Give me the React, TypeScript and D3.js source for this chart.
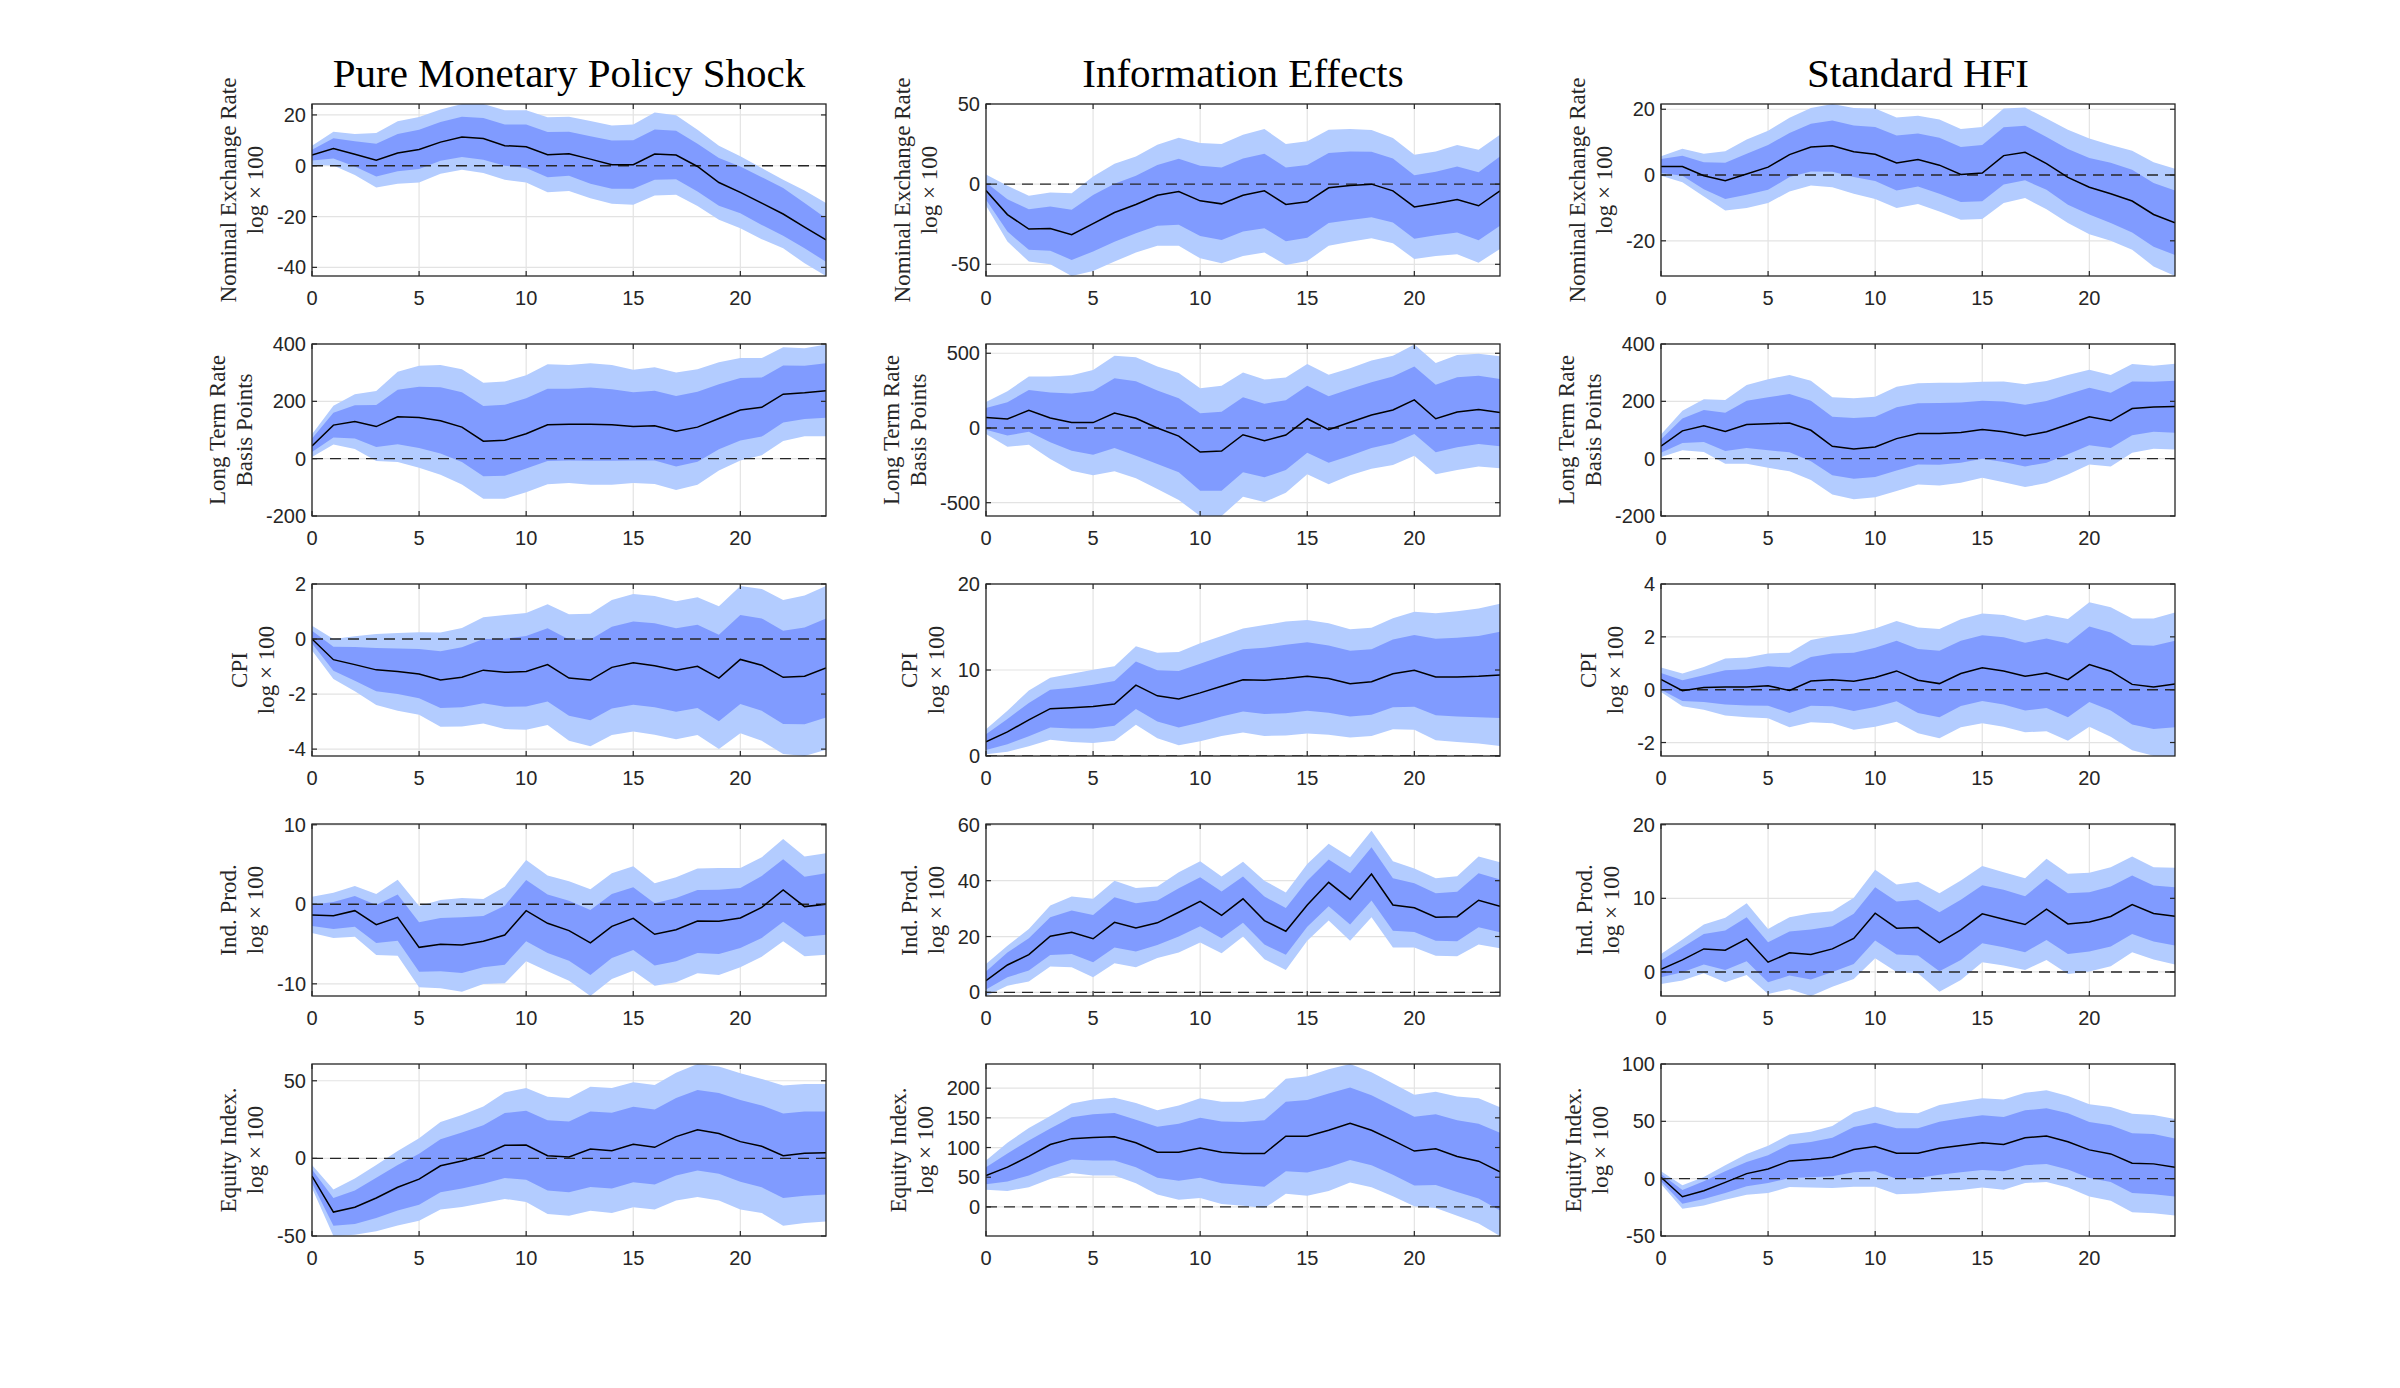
import React from 'react';
import * as d3 from 'd3';

// ---------------- DATA ----------------
const horizons = [0,1,2,3,4,5,6,7,8,9,10,11,12,13,14,15,16,17,18,19,20,21,22,23,24];
const xTicks = [0, 5, 10, 15, 20];
const columnTitles = ['Pure Monetary Policy Shock', 'Information Effects', 'Standard HFI'];
const rowLabels = [
  ['Nominal Exchange Rate', 'log × 100'],
  ['Long Term Rate', 'Basis Points'],
  ['CPI', 'log × 100'],
  ['Ind. Prod.', 'log × 100'],
  ['Equity Index.', 'log × 100'],
];

// Pure monetary policy shock — Nominal exchange rate
const pureNerMed = [4.2,6.8,4.5,2.2,5,6.4,9.3,11.3,10.7,7.9,7.5,4.3,4.7,2.6,0.4,0.4,4.6,4.2,-0.3,-6.6,-10.5,-14.7,-19,-24.2,-29.2];
const pureNerInHi = [6.3,10.8,9.6,8.7,12.5,14.2,17.2,19.3,18.8,16.2,16.2,13.3,13.4,11.6,9.9,10,14.3,13.8,8.7,3,-0.3,-4.5,-8.8,-14.7,-20.7];
const pureNerInLo = [2.1,2.8,-0.3,-4.2,-2.2,-1.3,2,3.4,2.4,0,-0.9,-4.5,-3.9,-7.1,-9.1,-9.1,-5.5,-5.3,-10.1,-15.7,-18.7,-23.3,-27.6,-32.5,-37.8];
const pureNerOutHi = [7.9,13.4,12.5,12.9,17.5,19.2,22.1,24.3,24.3,21.8,21.8,19.1,19.3,17.6,15.8,16.2,21,19.9,14.2,7.9,3.7,-0.9,-5.5,-9.7,-14.7];
const pureNerOutLo = [0.4,0.1,-3.6,-8.6,-7.1,-6.6,-3.2,-1.6,-2.9,-5.5,-6.6,-10.4,-9.9,-12.8,-15,-15.4,-11.7,-11.4,-15.8,-21.3,-24.6,-28.9,-32.5,-38.4,-43.4];

// Information effects — Nominal exchange rate
const infoNerMed = [-4,-19,-28,-27.7,-31.5,-24.6,-17.7,-12.7,-6.9,-4.6,-10.4,-12.3,-6.9,-4.2,-12.7,-11,-2.3,-0.8,0,-4.2,-14.2,-12.1,-9.6,-13.5,-4.2];
const infoNerInHi = [1,-9.4,-15.6,-14,-16,-6.7,0.2,5.2,12,15.8,11.5,10.4,16,19,10.4,11.9,19.4,20.4,20.2,16,5.6,7.7,11,7.5,17.3];
const infoNerInLo = [-9.8,-29.6,-41,-41.5,-47.3,-42,-36,-30.6,-26,-25.4,-32.3,-34.8,-29.6,-27.5,-35.6,-33.5,-24.2,-22.3,-20.6,-24,-34,-31.9,-30.2,-35,-26];
const infoNerOutHi = [6,-1,-7.3,-5.2,-5.6,4.8,12.7,17.3,24.6,29,25.6,25,30.8,34.4,25,26.7,34,34.4,33.8,28.8,18.3,20.4,24.4,21.5,30.8];
const infoNerOutLo = [-13.3,-35.8,-48.3,-50,-57.3,-54.2,-48.3,-42.7,-38.5,-38.5,-46.3,-49.4,-44.8,-42.7,-50.4,-47.9,-38.5,-36,-33.8,-36.9,-46.7,-44.8,-43.8,-49,-40.4];

// Standard HFI — Nominal exchange rate
const hfiNerMed = [2.6,2.6,-0.2,-1.7,0.3,2.4,6.2,8.5,8.9,7.1,6.3,3.7,4.7,3,0.2,0.6,5.9,6.9,3.5,-0.7,-3.7,-5.7,-7.9,-12,-14.5];
const hfiNerInHi = [4.9,5.9,3.9,3.7,6.5,9.1,12.8,15.6,16.6,15.1,14.6,12,12.6,11.3,8.5,9.1,14.5,15,11.6,7.9,5.2,3.7,1.6,-2.4,-4.7];
const hfiNerInLo = [0.6,-0.2,-4.3,-7.3,-6,-4.5,-0.6,1.1,1,-0.6,-1.8,-4.7,-3.5,-5.7,-8.2,-8,-2.9,-1.6,-4.5,-9,-12,-14.6,-17.5,-21.8,-24.3];
const hfiNerOutHi = [5.7,8,6.5,7.2,10.8,13.5,17.4,20.4,21.6,20.4,20.2,17.5,18,16.9,14,14.6,20.2,20.5,17.2,13.8,11.1,9.1,7.4,3.9,1.9];
const hfiNerOutLo = [-0.2,-2.2,-6.5,-10.8,-10,-8.5,-5,-3.2,-3.7,-5.7,-7.3,-10,-8.8,-11.1,-13.6,-13.4,-8.5,-7,-10.4,-14.6,-18,-20,-22.7,-27.8,-30.7];

// Pure — Long term rate
const pureLtrMed = [44,117,130,112,146,144,132,110,61,64,87,118,120,120,118,112,115,96,110,140,170,179,225,230,237];
const pureLtrInHi = [70,160,186,187,240,251,249,232,184,188,211,244,244,248,242,232,237,219,233,260,281,283,325,324,333];
const pureLtrInLo = [23,74,70,41,50,37,18,-12,-61,-60,-34,-8,-6,-7,-7,-6,-6,-27,-11,33,63,77,126,138,143];
const pureLtrOutHi = [85,185,225,236,303,324,327,312,265,269,291,329,327,333,327,310,319,301,312,336,351,351,389,385,398];
const pureLtrOutLo = [6,49,34,-8,-12,-32,-56,-90,-140,-140,-117,-89,-85,-91,-91,-85,-88,-109,-91,-41,-6,12,62,78,78];

// Info — Long term rate
const infoLtrMed = [71,60,118,67,36,36,100,65,0,-54,-161,-154,-45,-85,-47,62,-11,38,87,120,188,62,107,123,103];
const infoLtrInHi = [134,172,254,237,230,248,333,312,250,199,98,109,205,163,185,283,212,261,306,344,411,290,339,350,328];
const infoLtrInLo = [-11,-51,-25,-96,-152,-179,-134,-185,-241,-297,-420,-420,-297,-330,-281,-165,-232,-185,-134,-103,-40,-163,-129,-107,-123];
const infoLtrOutHi = [174,246,344,344,353,388,484,473,411,368,266,283,371,324,337,429,357,400,451,484,558,435,489,496,480];
const infoLtrOutLo = [-40,-125,-112,-208,-286,-317,-290,-337,-408,-482,-589,-589,-460,-496,-433,-310,-377,-317,-272,-248,-185,-310,-281,-257,-270];

// HFI — Long term rate
const hfiLtrMed = [44,97,115,95,119,122,124,99,43,34,41,70,88,88,91,102,94,80,94,119,146,132,175,180,182];
const hfiLtrInHi = [68,140,170,160,202,214,226,202,146,142,146,179,193,194,196,202,199,188,201,225,247,230,269,268,272];
const hfiLtrInLo = [21,55,58,27,37,29,22,-9,-58,-70,-64,-41,-20,-21,-14,0,-12,-27,-14,15,47,37,82,94,90];
const hfiLtrOutHi = [84,167,207,205,257,277,292,272,214,211,216,251,263,265,265,268,269,260,271,292,310,292,330,324,331];
const hfiLtrOutLo = [6,29,23,-18,-18,-32,-44,-74,-125,-142,-135,-113,-90,-94,-84,-67,-82,-99,-85,-55,-20,-27,21,35,32];

// Pure — CPI
const pureCpiMed = [0,-0.75,-0.93,-1.12,-1.18,-1.27,-1.49,-1.39,-1.13,-1.21,-1.18,-0.93,-1.42,-1.49,-1.03,-0.86,-0.97,-1.13,-0.99,-1.42,-0.74,-0.95,-1.39,-1.35,-1.05];
const pureCpiInHi = [0.3,-0.28,-0.29,-0.33,-0.34,-0.36,-0.44,-0.3,0,0.01,0.11,0.39,-0.02,-0.02,0.45,0.64,0.57,0.39,0.52,0.16,0.87,0.75,0.3,0.42,0.75];
const pureCpiInLo = [-0.16,-1.15,-1.52,-1.9,-2,-2.15,-2.51,-2.48,-2.33,-2.46,-2.45,-2.27,-2.79,-2.95,-2.52,-2.39,-2.48,-2.64,-2.51,-2.99,-2.36,-2.61,-3.09,-3.1,-2.85];
const pureCpiOutHi = [0.48,0,0.1,0.18,0.22,0.25,0.24,0.4,0.79,0.87,0.95,1.26,0.9,0.92,1.42,1.64,1.56,1.37,1.52,1.19,1.93,1.82,1.42,1.58,1.93];
const pureCpiOutLo = [-0.42,-1.45,-1.9,-2.4,-2.61,-2.75,-3.19,-3.18,-3.07,-3.27,-3.3,-3.12,-3.7,-3.9,-3.49,-3.36,-3.48,-3.64,-3.49,-4,-3.42,-3.7,-4.18,-4.25,-4.02];

// Info — CPI
const infoCpiMed = [1.64,2.8,4.2,5.5,5.6,5.75,6.05,8.24,7,6.64,7.34,8.1,8.87,8.8,9,9.26,9,8.4,8.63,9.57,9.96,9.18,9.18,9.26,9.41];
const infoCpiInHi = [2.54,4.3,6.17,7.7,7.93,8.28,8.71,11,9.96,9.88,10.74,11.6,12.42,12.6,12.93,13.24,12.85,12.23,12.42,13.55,14.06,13.63,13.75,13.95,14.45];
const infoCpiInLo = [0.7,1.37,2.3,3.32,3.2,3.2,3.52,5.47,4.02,3.32,3.9,4.6,5.16,4.88,4.96,5.27,5.04,4.6,4.8,5.66,5.74,4.73,4.6,4.5,4.41];
const infoCpiOutHi = [3.12,5.27,7.62,9.1,9.57,10.04,10.43,12.77,12,12.1,13.1,13.95,14.84,15.23,15.63,15.82,15.43,14.73,14.92,16.02,16.76,16.6,16.84,17.15,17.7];
const infoCpiOutLo = [0.2,0.5,1.13,1.9,1.64,1.52,1.76,3.63,2.07,1.25,1.72,2.34,2.73,2.34,2.38,2.62,2.46,2.15,2.34,3.12,3.05,1.84,1.64,1.45,1.17];

// HFI — CPI
const hfiCpiMed = [0.39,-0.04,0.08,0.1,0.1,0.15,-0.03,0.33,0.38,0.32,0.46,0.71,0.36,0.23,0.61,0.83,0.71,0.51,0.63,0.38,0.95,0.7,0.2,0.1,0.22];
const hfiCpiInHi = [0.63,0.36,0.55,0.74,0.77,0.89,0.84,1.24,1.37,1.4,1.59,1.85,1.54,1.47,1.85,2.06,1.98,1.78,1.94,1.75,2.39,2.16,1.69,1.66,1.85];
const hfiCpiInLo = [0,-0.43,-0.47,-0.56,-0.6,-0.61,-0.88,-0.61,-0.63,-0.81,-0.66,-0.44,-0.88,-1.04,-0.62,-0.43,-0.56,-0.79,-0.69,-1.04,-0.47,-0.79,-1.32,-1.49,-1.42];
const hfiCpiOutHi = [0.84,0.61,0.86,1.18,1.22,1.37,1.4,1.88,2.03,2.13,2.32,2.6,2.35,2.3,2.67,2.88,2.83,2.62,2.83,2.68,3.31,3.12,2.69,2.69,2.92];
const hfiCpiOutLo = [-0.09,-0.63,-0.76,-0.98,-1.04,-1.08,-1.42,-1.23,-1.27,-1.52,-1.4,-1.21,-1.65,-1.84,-1.42,-1.27,-1.4,-1.61,-1.57,-1.93,-1.4,-1.78,-2.29,-2.5,-2.51];

// Pure — Industrial production
const pureIpMed = [-1.34,-1.43,-0.8,-2.56,-1.64,-5.41,-5.03,-5.12,-4.65,-3.86,-0.8,-2.39,-3.31,-4.86,-2.77,-1.76,-3.77,-3.19,-2.1,-2.14,-1.72,-0.38,1.8,-0.29,0];
const pureIpInHi = [-0.04,0.29,1.05,-0.08,1.22,-2.26,-1.72,-1.64,-1.47,-0.17,3.06,1.22,0.46,-0.71,1.3,2.14,0.13,0.8,1.8,1.84,2.05,3.56,5.66,3.48,3.9];
const pureIpInLo = [-2.73,-3.1,-2.81,-4.86,-4.57,-8.47,-8.43,-8.64,-7.92,-7.59,-4.65,-6.12,-7.09,-8.89,-6.75,-5.74,-7.71,-7.17,-6.12,-6.25,-5.49,-4.23,-2.18,-4.07,-3.82];
const pureIpOutHi = [0.96,1.47,2.31,1.3,3.1,-0.21,0.55,0.8,0.67,2.22,5.58,3.61,2.89,1.89,3.9,4.78,2.64,3.4,4.49,4.57,4.57,5.91,8.22,6,6.42];
const pureIpOutLo = [-3.61,-4.23,-4.07,-6.37,-6.46,-10.44,-10.57,-10.99,-10.02,-9.94,-7.17,-8.43,-9.6,-11.53,-9.39,-8.34,-10.23,-9.81,-8.68,-8.89,-7.92,-6.58,-4.65,-6.54,-6.33];

// Info — Industrial production
const infoIpMed = [4.2,9.8,13.5,20.1,21.5,19.2,25.1,23.1,24.9,28.7,32.6,27.6,33.5,25.7,21.9,31.3,39.4,33.3,42.4,31.3,30.3,26.9,27.1,33,30.8];
const infoIpInHi = [7.5,14.3,19.4,26.9,29.3,27.7,34.1,31.9,32.9,37.3,41.2,36.1,41.5,34.3,30.2,40,47.6,42.7,52,40.9,39.1,35.5,36,42.7,40.4];
const infoIpInLo = [1,5.4,7.8,13.4,13.7,10.8,16.1,14.6,17,20,23.7,19.4,24.9,17.1,13.5,23.5,30.8,24.3,32.9,22.1,21.6,18.5,18.3,23.3,21.5];
const infoIpOutHi = [10.2,16.7,22.7,31.1,34.3,33.5,40,37.4,37.9,43,47,41.5,46.8,40,35.8,46,53.2,48.4,57.9,47,44.4,40.9,41.6,48.7,46.6];
const infoIpOutLo = [-1.3,2.4,3.9,9.3,9,5.4,10.4,9,12.3,14.3,17.9,14,20,11.9,8,18.5,25.7,18.5,26.9,16.1,16.1,13.1,12.9,17.1,15.8];

// HFI — Industrial production
const hfiIpMed = [0.36,1.63,3.13,2.95,4.49,1.32,2.59,2.36,3.13,4.54,7.98,5.94,6.03,3.99,5.71,7.89,7.17,6.44,8.53,6.53,6.8,7.53,9.16,7.94,7.57];
const hfiIpInHi = [1.54,3.36,5.17,5.62,7.44,4.04,5.49,5.76,6.21,7.89,11.52,9.57,9.8,8.12,9.8,11.79,11.16,10.29,12.65,10.7,10.84,11.61,13.11,11.75,11.52];
const hfiIpInLo = [-0.73,-0.05,1,0.27,1.45,-1.41,-0.5,-1.04,0,1.09,4.26,2.36,2.22,0.09,1.63,3.9,3.36,2.68,4.35,2.45,2.77,3.45,5.17,4.13,3.58];
const hfiIpOutHi = [2.45,4.4,6.44,7.35,9.34,5.85,7.44,7.98,8.25,10.07,13.88,11.88,12.24,10.7,12.43,14.38,13.56,12.74,15.37,13.33,13.47,14.24,15.69,14.24,14.15];
const hfiIpOutLo = [-1.63,-1.18,-0.18,-1.41,-0.41,-2.99,-2.36,-3.27,-2,-0.95,1.86,0,-0.18,-2.68,-1.09,1.32,0.86,0.27,1.63,-0.27,0.05,0.77,2.68,1.68,1];

// Pure — Equity index
const pureEqMed = [-11.4,-34.6,-31.5,-25.5,-18.6,-13.4,-4.75,-1.73,2.16,8.4,8.6,1.73,0.86,6.05,4.97,9.07,7.13,14,18.4,16,10.8,7.8,1.73,3.24,3.67];
const pureEqInHi = [-7.1,-25.5,-20.7,-12.5,-4.3,3,12.3,16.6,21.4,29.2,30.7,24.6,23.8,30.2,29.4,33.3,31.5,38.9,44.1,42.1,37.6,34.1,28.9,30.2,30.2];
const pureEqInLo = [-15.8,-43.4,-42.3,-38.4,-33.5,-29.8,-21.8,-19.4,-16.4,-12.7,-13.8,-20.7,-21.8,-18.4,-19.4,-15.3,-16.8,-11,-7.8,-9.9,-15.1,-18.6,-25.5,-24,-23.3];
const pureEqOutHi = [-4.3,-20.1,-13,-4.3,4.75,13,23.5,27.9,33.5,42.5,45.4,39.7,38.9,46.2,45.4,49,47.3,55.1,60.8,59.2,54.9,51.2,46.9,47.9,47.9];
const pureEqOutLo = [-19,-50,-49.2,-47,-43.2,-40.2,-33,-31.3,-28.7,-26.1,-28.1,-35.9,-36.9,-33.7,-35.2,-31.5,-33,-27.2,-24.8,-27.2,-33,-35.2,-43.4,-41.7,-40.6];

// Info — Equity index
const infoEqMed = [53,67,85,105,115,117,118,108,92,92,99,92,90,90,119,119,129,141,129,112,94,98,85,77,59];
const infoEqInHi = [67,90,112,132,151,156,158,147,135,140,150,144,143,146,177,180,191,201,188,170,152,156,146,140,125];
const infoEqInLo = [38,43,53,68,80,78,78,67,49,44,49,40,37,34,60,58,67,79,70,54,36,37,25,14,-6];
const infoEqOutHi = [78,108,133,153,174,181,184,175,163,171,183,177,177,183,216,220,232,240.7,227,208,189,194,186,183,168];
const infoEqOutLo = [29,27,33,47,57,53,53,40,21,12,15,5,2,-2,22,19,27,41,33,18,1,-2,-15,-28,-49];

// HFI — Equity index
const hfiEqMed = [1.2,-15.8,-10.5,-3.2,4.4,8.5,15.5,16.7,18.7,25.4,28.1,22.2,22.2,26.6,28.9,31.3,29.8,35.7,37.1,32.2,25.1,21.6,13.5,12.9,9.9];
const hfiEqInHi = [4.1,-9.9,-2.3,6.4,14.6,20.5,29.8,31.9,35.7,45,48.8,43.9,43.9,49.7,52.6,55.3,53.8,59.6,61.4,57,49.4,46.5,39.5,38.9,35.1];
const hfiEqInLo = [-2.3,-21.9,-17.8,-12.6,-6.7,-3.8,0.6,1.2,2,5.6,6.4,0,0.6,3.5,5.6,7.6,6.4,11.7,12.9,7.9,0.6,-2.9,-12.6,-13.5,-15.5];
const hfiEqOutHi = [6.4,-5.8,1.5,11.7,21.6,28.7,38.6,40.9,45.9,57.6,62.9,57.6,57,64.3,67.3,70.2,69,74.9,77.2,72.2,64.9,62.6,56.7,55.6,52];
const hfiEqOutLo = [-4.7,-26.3,-23.4,-18.4,-14,-12.6,-7.3,-7.6,-8.2,-7,-7,-13.5,-12.9,-11.1,-9.9,-7.6,-9.6,-3.8,-2.9,-7.6,-15.5,-19.3,-29.2,-30.1,-32.2];

// y-axis limits and ticks (row-major: row, then column)
const yDomains: [number, number][] = [
  [-43.4, 24.3], [-57.3, 50], [-30.7, 21.6],
  [-200, 400], [-589, 562], [-200, 400],
  [-4.25, 2], [0, 20], [-2.51, 4],
  [-11.53, 10.1], [-1.3, 60.3], [-3.27, 20.1],
  [-50, 60.8], [-49, 240.7], [-50, 100],
];
const yTickSets: number[][] = [
  [-40, -20, 0, 20], [-50, 0, 50], [-20, 0, 20],
  [-200, 0, 200, 400], [-500, 0, 500], [-200, 0, 200, 400],
  [-4, -2, 0, 2], [0, 10, 20], [-2, 0, 2, 4],
  [-10, 0, 10], [0, 20, 40, 60], [0, 10, 20],
  [-50, 0, 50], [0, 50, 100, 150, 200], [-50, 0, 50, 100],
];

type Series = { med: number[]; inHi: number[]; inLo: number[]; outHi: number[]; outLo: number[] };
const panelSeries: Series[] = [
  { med: pureNerMed, inHi: pureNerInHi, inLo: pureNerInLo, outHi: pureNerOutHi, outLo: pureNerOutLo },
  { med: infoNerMed, inHi: infoNerInHi, inLo: infoNerInLo, outHi: infoNerOutHi, outLo: infoNerOutLo },
  { med: hfiNerMed, inHi: hfiNerInHi, inLo: hfiNerInLo, outHi: hfiNerOutHi, outLo: hfiNerOutLo },
  { med: pureLtrMed, inHi: pureLtrInHi, inLo: pureLtrInLo, outHi: pureLtrOutHi, outLo: pureLtrOutLo },
  { med: infoLtrMed, inHi: infoLtrInHi, inLo: infoLtrInLo, outHi: infoLtrOutHi, outLo: infoLtrOutLo },
  { med: hfiLtrMed, inHi: hfiLtrInHi, inLo: hfiLtrInLo, outHi: hfiLtrOutHi, outLo: hfiLtrOutLo },
  { med: pureCpiMed, inHi: pureCpiInHi, inLo: pureCpiInLo, outHi: pureCpiOutHi, outLo: pureCpiOutLo },
  { med: infoCpiMed, inHi: infoCpiInHi, inLo: infoCpiInLo, outHi: infoCpiOutHi, outLo: infoCpiOutLo },
  { med: hfiCpiMed, inHi: hfiCpiInHi, inLo: hfiCpiInLo, outHi: hfiCpiOutHi, outLo: hfiCpiOutLo },
  { med: pureIpMed, inHi: pureIpInHi, inLo: pureIpInLo, outHi: pureIpOutHi, outLo: pureIpOutLo },
  { med: infoIpMed, inHi: infoIpInHi, inLo: infoIpInLo, outHi: infoIpOutHi, outLo: infoIpOutLo },
  { med: hfiIpMed, inHi: hfiIpInHi, inLo: hfiIpInLo, outHi: hfiIpOutHi, outLo: hfiIpOutLo },
  { med: pureEqMed, inHi: pureEqInHi, inLo: pureEqInLo, outHi: pureEqOutHi, outLo: pureEqOutLo },
  { med: infoEqMed, inHi: infoEqInHi, inLo: infoEqInLo, outHi: infoEqOutHi, outLo: infoEqOutLo },
  { med: hfiEqMed, inHi: hfiEqInHi, inLo: hfiEqInLo, outHi: hfiEqOutHi, outLo: hfiEqOutLo },
];

// ---------------- LAYOUT / STYLE ----------------
const FIG_W = 2400;
const FIG_H = 1388;
const COL_LEFT = [312, 986, 1661];
const ROW_TOP = [104, 344, 584, 824, 1064];
const PW = 514;
const PH = 172;
const OUTER_FILL = '#b3ccff';
const INNER_FILL = '#809bff';
const AXIS_COLOR = '#262626';
const GRID_COLOR = '#e3e3e3';
const SERIF = '"Liberation Serif", "DejaVu Serif", serif';
const SANS = '"Liberation Sans", Arial, sans-serif';
const TICK_FS = 20;
const LABEL_FS = 23;

function tickText(v: number) {
  return v < 0 ? '-' + String(Math.abs(v)) : String(v);
}
function textWidth(s: string) {
  let w = 0;
  for (const ch of s) w += ch === '-' ? 0.333 : 0.556;
  return w * TICK_FS;
}

function Panel({ idx }: { idx: number }) {
  const row = Math.floor(idx / 3);
  const col = idx % 3;
  const left = COL_LEFT[col];
  const top = ROW_TOP[row];
  const s = panelSeries[idx];
  const x = d3.scaleLinear().domain([0, 24]).range([left, left + PW]);
  const y = d3.scaleLinear().domain(yDomains[idx]).range([top + PH, top]);
  const ticks = yTickSets[idx];

  const band = (lo: number[], hi: number[]) =>
    d3
      .area<number>()
      .x((d) => x(d))
      .y0((_, i) => y(lo[i]))
      .y1((_, i) => y(hi[i]))(horizons) || '';
  const medLine =
    d3
      .line<number>()
      .x((d) => x(d))
      .y((_, i) => y(s.med[i]))(horizons) || '';

  const clipId = `clip-${idx}`;
  const maxTickW = Math.max(...ticks.map((t) => textWidth(tickText(t))));
  const labelBase2 = left - 6 - maxTickW - 14;
  const labelBase1 = labelBase2 - 27;
  const cy = top + PH / 2;
  const [l1, l2] = rowLabels[row];
  const tl = 5;

  return (
    <g>
      <defs>
        <clipPath id={clipId}>
          <rect x={left} y={top} width={PW} height={PH} />
        </clipPath>
      </defs>
      <rect x={left} y={top} width={PW} height={PH} fill="#fff" />
      {xTicks.map((t) => (
        <line key={'gx' + t} x1={x(t)} x2={x(t)} y1={top} y2={top + PH} stroke={GRID_COLOR} strokeWidth={1.2} />
      ))}
      {ticks.map((t) => (
        <line key={'gy' + t} x1={left} x2={left + PW} y1={y(t)} y2={y(t)} stroke={GRID_COLOR} strokeWidth={1.2} />
      ))}
      <g clipPath={`url(#${clipId})`}>
        <path d={band(s.outLo, s.outHi)} fill={OUTER_FILL} />
        <path d={band(s.inLo, s.inHi)} fill={INNER_FILL} />
        <line x1={left} x2={left + PW} y1={y(0)} y2={y(0)} stroke="#262626" strokeWidth={1.4} strokeDasharray="11,7" />
        <path d={medLine} fill="none" stroke="#000" strokeWidth={1.5} />
      </g>
      <rect x={left} y={top} width={PW} height={PH} fill="none" stroke={AXIS_COLOR} strokeWidth={1.3} />
      {xTicks.map((t) => (
        <g key={'tx' + t}>
          <line x1={x(t)} x2={x(t)} y1={top + PH} y2={top + PH - tl} stroke={AXIS_COLOR} strokeWidth={1.2} />
          <line x1={x(t)} x2={x(t)} y1={top} y2={top + tl} stroke={AXIS_COLOR} strokeWidth={1.2} />
          <text x={x(t)} y={top + PH + 29} textAnchor="middle" fontFamily={SANS} fontSize={TICK_FS} fill={AXIS_COLOR}>
            {tickText(t)}
          </text>
        </g>
      ))}
      {ticks.map((t) => (
        <g key={'ty' + t}>
          <line x1={left} x2={left + tl} y1={y(t)} y2={y(t)} stroke={AXIS_COLOR} strokeWidth={1.2} />
          <line x1={left + PW} x2={left + PW - tl} y1={y(t)} y2={y(t)} stroke={AXIS_COLOR} strokeWidth={1.2} />
          <text x={left - 6} y={y(t) + 7} textAnchor="end" fontFamily={SANS} fontSize={TICK_FS} fill={AXIS_COLOR}>
            {tickText(t)}
          </text>
        </g>
      ))}
      <text transform={`translate(${labelBase1},${cy}) rotate(-90)`} textAnchor="middle" fontFamily={SERIF} fontSize={LABEL_FS} fill="#262626">
        {l1}
      </text>
      <text transform={`translate(${labelBase2},${cy}) rotate(-90)`} textAnchor="middle" fontFamily={SERIF} fontSize={LABEL_FS} fill="#262626">
        {l2}
      </text>
    </g>
  );
}

export default function App() {
  return (
    <svg
      width={FIG_W}
      height={FIG_H}
      viewBox={`0 0 ${FIG_W} ${FIG_H}`}
      style={{ position: 'absolute', left: 0, top: 0, background: '#fff' }}
    >
      <rect x={0} y={0} width={FIG_W} height={FIG_H} fill="#fff" />
      {columnTitles.map((t, c) => (
        <text key={t} x={COL_LEFT[c] + PW / 2} y={87} textAnchor="middle" fontFamily={SERIF} fontSize={41} fill="#000">
          {t}
        </text>
      ))}
      {panelSeries.map((_, i) => (
        <Panel key={i} idx={i} />
      ))}
    </svg>
  );
}
